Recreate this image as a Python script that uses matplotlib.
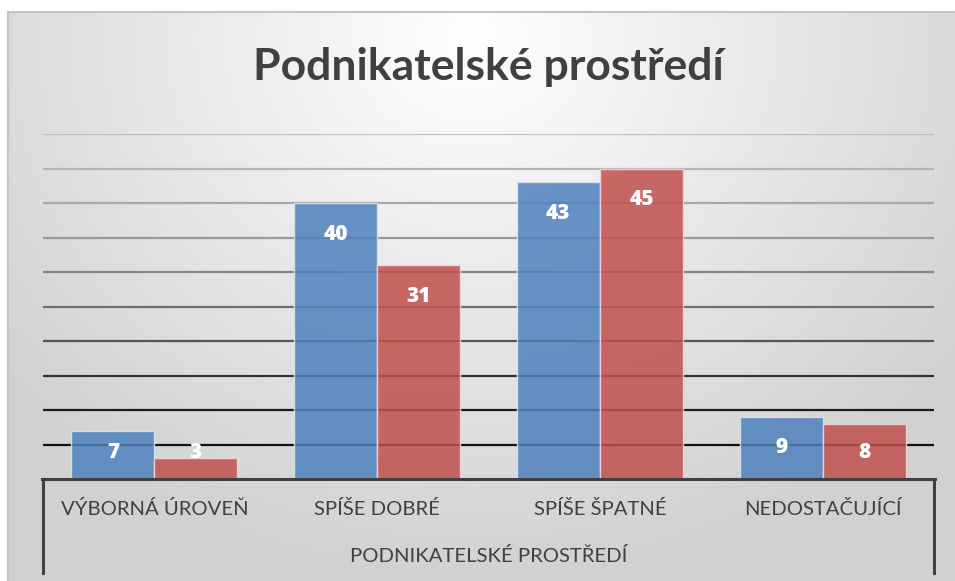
import numpy as np
import matplotlib
matplotlib.use("Agg")
import matplotlib.pyplot as plt
from matplotlib.lines import Line2D

# data
categories = ["VÝBORNÁ ÚROVEŇ", "SPÍŠE DOBRÉ", "SPÍŠE ŠPATNÉ", "NEDOSTAČUJÍCÍ"]
series_blue = [7, 40, 43, 9]
series_red = [3, 31, 45, 8]
group_label = "PODNIKATELSKÉ PROSTŘEDÍ"
title = "Podnikatelské prostředí"
grid_values = [5, 10, 15, 20, 25, 30, 35, 40, 45, 50]

W, H = 955, 581
plt.rcParams['font.family'] = ['Lato', 'DejaVu Sans']

fig = plt.figure(figsize=(W / 100, H / 100), dpi=100)

def fx(px):
    return px / W

def fy(py):
    return 1 - py / H

# background gradient (radial, white near the title)
bg = fig.add_axes([0, 0, 1, 1])
yy, xx = np.mgrid[0:H, 0:W]
r = np.sqrt(((xx - 470) / 600.0) ** 2 + ((yy - 40) / 540.0) ** 2)
shade = 1 - 0.18 * np.clip(r, 0, 1)
img = np.dstack([shade, shade, shade])
img[:12, :] = 1
img[:, :8] = 1
bg.imshow(img, extent=[0, W, H, 0], aspect="auto", interpolation="bilinear")
bg.set_xlim(0, W)
bg.set_ylim(H, 0)
bg.axis("off")
# chart frame
bg.plot([8, W], [12, 12], color="#c4c4c4", lw=1.5)
bg.plot([8, 8], [12, H], color="#c4c4c4", lw=1.5)

# plot area
left, right, top, bottom = 43, 934, 134, 479
ax = fig.add_axes([fx(left), fy(bottom), fx(right - left), (bottom - top) / H])
ax.set_facecolor("none")
ax.set_xlim(0, len(categories))
ax.set_ylim(0, 50)

grid_colors = ["#111111", "#1c1c1c", "#333333", "#555555", "#6e6e6e",
               "#858585", "#999999", "#a8a8a8", "#b4b4b4", "#bdbdbd"]
for v, c in zip(grid_values, grid_colors):
    ax.axhline(v, color=c, lw=1.6, zorder=1)

x = np.arange(len(categories)) + 0.5
bw = 0.373
ax.bar(x - bw / 2, series_blue, width=bw, color="#4F81BD", alpha=0.85,
       edgecolor="#dce6f2", linewidth=1, zorder=2)
ax.bar(x + bw / 2, series_red, width=bw, color="#C0504D", alpha=0.85,
       edgecolor="#f2dcdb", linewidth=1, zorder=2)

for xs, vals in ((x - bw / 2, series_blue), (x + bw / 2, series_red)):
    for xi, v in zip(xs, vals):
        ax.text(xi, max(v - 4.5, 3.9), str(v), color="white", fontsize=15,
                fontweight="heavy", ha="center", va="center", zorder=3,
                family=["Open Sans", "DejaVu Sans"])

ax.axis("off")

# category axis box
axis_col = "#404040"
fig.add_artist(Line2D([fx(left - 1), fx(right + 1)], [fy(bottom), fy(bottom)],
                      color=axis_col, lw=2.2))
for xp in (left, right):
    fig.add_artist(Line2D([fx(xp), fx(xp)], [fy(bottom), fy(573)],
                          color=axis_col, lw=2.2))

for i, cat in enumerate(categories):
    cx = left + (i + 0.5) * (right - left) / len(categories)
    fig.text(fx(cx), fy(509), cat, ha="center", va="center", fontsize=14.6,
             color="#404040")
fig.text(fx((left + right) / 2), fy(556), group_label, ha="center", va="center",
         fontsize=14.6, color="#404040")

fig.text(fx(488), fy(67), title, ha="center", va="center", fontsize=32,
         fontweight="bold", color="#404040")

fig.savefig("out.png", dpi=100)
